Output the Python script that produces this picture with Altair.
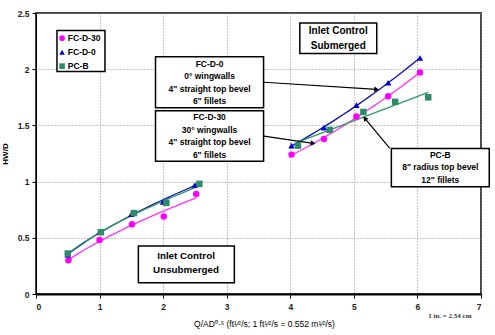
import altair as alt
import pandas as pd

FONT = "Liberation Sans"

# ---- data ----
series_names = ["FC-D-30", "FC-D-0", "PC-B"]
series_colors = ["#FF00FF", "#0000CC", "#2E8B6A"]
line_colors = ["#FF33FF", "#1010B0", "#339966"]
series_shapes = ["circle", "triangle-up", "square"]

# Unsubmerged regime
fcd30_unsub_x = [0.51, 1.00, 1.51, 2.01, 2.52]
fcd30_unsub_y = [0.30, 0.48, 0.62, 0.69, 0.89]
fcd0_unsub_x = [0.50, 1.00, 1.50, 2.00, 2.50]
fcd0_unsub_y = [0.35, 0.55, 0.71, 0.82, 0.97]
pcb_unsub_x = [0.50, 1.02, 1.54, 2.05, 2.57]
pcb_unsub_y = [0.36, 0.55, 0.72, 0.81, 0.98]

# Submerged regime
fcd30_sub_x = [4.02, 4.53, 5.04, 5.54, 6.04]
fcd30_sub_y = [1.24, 1.38, 1.58, 1.76, 1.97]
fcd0_sub_x = [4.02, 4.53, 5.04, 5.54, 6.04]
fcd0_sub_y = [1.32, 1.48, 1.68, 1.88, 2.10]
pcb_sub_x = [4.12, 4.62, 5.15, 5.65, 6.17]
pcb_sub_y = [1.32, 1.46, 1.62, 1.71, 1.75]

x_ticks = [0, 1, 2, 3, 4, 5, 6, 7]
y_ticks = [0, 0.5, 1, 1.5, 2, 2.5]

# annotation boxes (data coordinates)
box_x1 = [1.88, 1.88, 4.15, 5.59, 1.61, 0.33]
box_x2 = [3.58, 3.58, 5.36, 7.13, 3.12, 1.085]
box_y1 = [2.11, 1.63, 2.41, 1.295, 0.427, 2.345]
box_y2 = [1.656, 1.18, 2.14, 0.954, 0.10, 1.98]
box_lines = [
    ["FC-D-0", "0° wingwalls", "4\" straight top bevel", "6\" fillets"],
    ["FC-D-30", "30° wingwalls", "4\" straight top bevel", "6\" fillets"],
    ["Inlet Control", "Submerged"],
    ["PC-B", "8\" radius top bevel", "12\" fillets"],
    ["Inlet Control", "Unsubmerged"],
]
box_text_x = [2.73, 2.73, 4.755, 6.36, 2.36]
box_text_y = [1.881, 1.406, 2.277, 1.127, 0.273]
box_font_size = [8.5, 8.5, 10, 8.5, 9.8]
box_line_h = [0.112, 0.112, 0.133, 0.109, 0.127]   # line spacing in y-units

# legend entries (data coordinates of the in-plot legend)
leg_sym_x = 0.41
leg_lab_x = 0.50
leg_y = [2.276, 2.151, 2.027]

# arrows (data coordinates)
arr_x1 = [3.585, 3.585, 5.566]
arr_y1 = [1.884, 1.404, 1.295]
arr_x2 = [5.357, 4.360, 5.173]
arr_y2 = [1.820, 1.340, 1.562]
arr_angle = [3.7, 8.4, 230.2]

rows = []
for name, xs_, ys_ in [("FC-D-30", fcd30_unsub_x, fcd30_unsub_y),
                       ("FC-D-0", fcd0_unsub_x, fcd0_unsub_y),
                       ("PC-B", pcb_unsub_x, pcb_unsub_y)]:
    for a, b in zip(xs_, ys_):
        rows.append({"series": name, "regime": "unsub", "x": a, "y": b})
for name, xs_, ys_ in [("FC-D-30", fcd30_sub_x, fcd30_sub_y),
                       ("FC-D-0", fcd0_sub_x, fcd0_sub_y),
                       ("PC-B", pcb_sub_x, pcb_sub_y)]:
    for a, b in zip(xs_, ys_):
        rows.append({"series": name, "regime": "sub", "x": a, "y": b})
df = pd.DataFrame(rows)

xs = alt.Scale(domain=[0, 7], nice=False)
ys = alt.Scale(domain=[0, 2.5], nice=False)

X = alt.X("x:Q", scale=xs,
          axis=alt.Axis(values=x_ticks, format="~g", titleX=228,
                        title="Q/AD⁰·⁵ (ft¹⁄²/s; 1 ft¹⁄²/s = 0.552 m¹⁄²/s)"))
Y = alt.Y("y:Q", scale=ys,
          axis=alt.Axis(values=y_ticks, format="~g", title="HW/D"))

line_stroke = alt.Stroke("series:N", scale=alt.Scale(domain=series_names, range=line_colors), legend=None)
pt_color = alt.Color("series:N", scale=alt.Scale(domain=series_names, range=series_colors), legend=None)
pt_shape = alt.Shape("series:N", scale=alt.Scale(domain=series_names, range=series_shapes), legend=None)

base = alt.Chart(df)

unsub_lines = base.transform_filter(alt.datum.regime == "unsub").transform_regression(
    "x", "y", groupby=["series"], method="pow"
).mark_line(strokeWidth=1.3).encode(x=X, y=Y, stroke=line_stroke, detail="series:N")

sub_curves = base.transform_filter(
    (alt.datum.regime == "sub") & (alt.datum.series != "PC-B")
).transform_regression(
    "x", "y", groupby=["series"], method="poly", order=2
).mark_line(strokeWidth=1.3).encode(x=X, y=Y, stroke=line_stroke, detail="series:N")

sub_lin = base.transform_filter(
    (alt.datum.regime == "sub") & (alt.datum.series == "PC-B")
).transform_regression(
    "x", "y", groupby=["series"], method="linear"
).mark_line(strokeWidth=1.3).encode(x=X, y=Y, stroke=line_stroke, detail="series:N")

points = base.mark_point(filled=True, size=42, opacity=1).encode(
    x=X, y=Y, color=pt_color, shape=pt_shape)

boxes_df = pd.DataFrame({"x1": box_x1, "x2": box_x2, "y1": box_y1, "y2": box_y2})
boxes = alt.Chart(boxes_df).mark_rect(fill="white", stroke="black", strokeWidth=1.5).encode(
    x=alt.X("x1:Q", scale=xs), x2="x2:Q", y=alt.Y("y1:Q", scale=ys), y2="y2:Q"
)

# in-plot legend
leg_df = pd.DataFrame({"series": series_names, "sx": [leg_sym_x] * 3,
                       "lx": [leg_lab_x] * 3, "ly": leg_y})
leg_syms = alt.Chart(leg_df).mark_point(filled=True, size=32, opacity=1).encode(
    x=alt.X("sx:Q", scale=xs), y=alt.Y("ly:Q", scale=ys), color=pt_color, shape=pt_shape)
leg_labs = alt.Chart(leg_df).mark_text(font=FONT, fontWeight="bold", fontSize=8.5,
                                       align="left", baseline="middle", color="black").encode(
    x=alt.X("lx:Q", scale=xs), y=alt.Y("ly:Q", scale=ys), text="series:N")

text_layers = []
for i, lines in enumerate(box_lines):
    n = len(lines)
    trows = [{"t": s, "tx": box_text_x[i],
              "ty": box_text_y[i] + ((n - 1) / 2 - k) * box_line_h[i]} for k, s in enumerate(lines)]
    text_layers.append(
        alt.Chart(pd.DataFrame(trows)).mark_text(
            font=FONT, fontWeight="bold", fontSize=box_font_size[i],
            baseline="middle", align="center", color="black").encode(
            x=alt.X("tx:Q", scale=xs), y=alt.Y("ty:Q", scale=ys), text="t:N")
    )

arr_df = pd.DataFrame({"x1": arr_x1, "y1": arr_y1, "x2": arr_x2, "y2": arr_y2, "ang": arr_angle})
arrows = alt.Chart(arr_df).mark_rule(color="black", strokeWidth=1.2).encode(
    x=alt.X("x1:Q", scale=xs), y=alt.Y("y1:Q", scale=ys), x2="x2:Q", y2="y2:Q")
heads = alt.Chart(arr_df).mark_point(shape="triangle-right", filled=True, color="black",
                                     size=30, opacity=1).encode(
    x=alt.X("x2:Q", scale=xs), y=alt.Y("y2:Q", scale=ys),
    angle=alt.Angle("ang:Q", scale=None))

note_df = pd.DataFrame({"x": [6.51], "y": [-0.196], "t": ["1 in. = 2.54 cm"]})
note = alt.Chart(note_df).mark_text(font="Liberation Serif", fontWeight="bold", fontSize=7,
                                    color="#333").encode(
    x=alt.X("x:Q", scale=xs), y=alt.Y("y:Q", scale=ys), text="t:N")

chart = alt.layer(
    unsub_lines, sub_curves, sub_lin, points, arrows, heads, boxes,
    *text_layers, leg_syms, leg_labs, note
).properties(
    width=445, height=281,
    autosize=alt.AutoSizeParams(type="none"),
    padding={"left": 36, "top": 13, "right": 14, "bottom": 41},
    background="white",
).configure_view(
    stroke="#444", strokeWidth=2
).configure_axis(
    grid=True, gridColor="#888", gridDash=[1, 2], gridWidth=1,
    domainColor="black", tickColor="black", tickSize=4,
    labelFont=FONT, labelFontWeight="bold", labelFontSize=8.5, labelColor="#222",
    titleFont=FONT, titleFontSize=8.5, titleFontWeight="normal", titleColor="black",
).configure_axisX(
    domainWidth=2, titlePadding=9, labelPadding=4
).configure_axisY(
    domainWidth=1, titleFontWeight="bold", titleFontSize=8, titlePadding=8, labelPadding=3
)

chart.save("out.html", embed_options={"renderer": "svg", "actions": False})
